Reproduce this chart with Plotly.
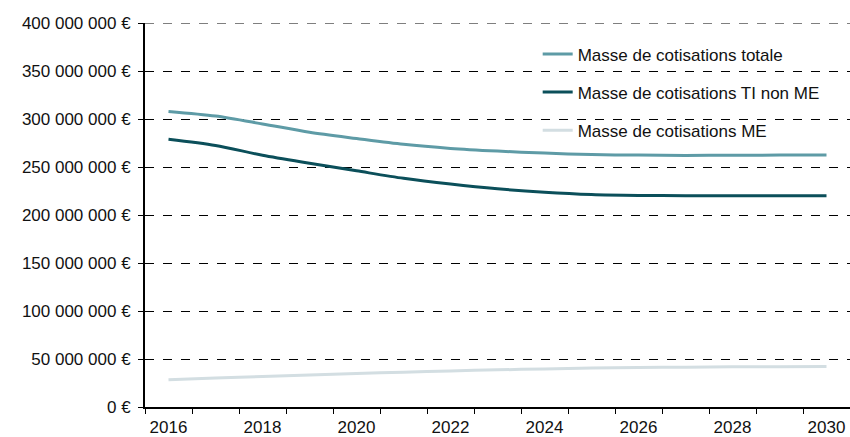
import plotly.graph_objects as go

# Annual contribution totals, 2016-2030 (euros)
years = list(range(2016, 2031))
masse_totale = [307.9e6, 303.1e6, 294.9e6, 286.2e6, 279.7e6, 273.6e6, 269.4e6, 266.6e6,
                264.5e6, 262.9e6, 262.4e6, 262.1e6, 262.2e6, 262.4e6, 262.6e6]
masse_ti_non_me = [279.0e6, 272.5e6, 262.2e6, 253.9e6, 246.0e6, 238.2e6, 232.2e6, 227.3e6,
                   223.8e6, 221.4e6, 220.4e6, 220.1e6, 220.0e6, 220.0e6, 220.1e6]
masse_me = [28.4e6, 30.2e6, 31.8e6, 33.3e6, 34.8e6, 36.3e6, 37.6e6, 38.7e6,
            39.7e6, 40.5e6, 41.1e6, 41.5e6, 41.8e6, 42.0e6, 42.2e6]

series_names = ["Masse de cotisations totale", "Masse de cotisations TI non ME", "Masse de cotisations ME"]
series_colors = ["#5E9BA6", "#0B4F5A", "#D3DEE2"]

y_tickvals = [0, 50e6, 100e6, 150e6, 200e6, 250e6, 300e6, 350e6, 400e6]
y_ticktext = ["{:,} €".format(int(v)).replace(",", " ") for v in y_tickvals]
x_tickvals = [2016, 2018, 2020, 2022, 2024, 2026, 2028, 2030]
x_boundaries = [y + 0.5 for y in range(2015, 2031)]

FONT = "Liberation Sans, Arial, sans-serif"
FS = 17

fig = go.Figure()
for i, (name, vals, col) in enumerate(zip(series_names, [masse_totale, masse_ti_non_me, masse_me], series_colors)):
    fig.add_trace(go.Scatter(
        x=years, y=vals, name=name, mode="lines",
        line=dict(color=col, width=3, shape="spline", smoothing=0.8),
        legendgroup=f"g{i}",
    ))

# dashed gridline at the top of the value axis
fig.add_shape(type="line", xref="paper", yref="y", x0=0, x1=1,
              y0=y_tickvals[-1], y1=y_tickvals[-1],
              line=dict(color="black", width=1, dash="dash"), layer="below")

fig.update_layout(
    width=850, height=437,
    margin=dict(l=145, r=0, t=23, b=27),
    paper_bgcolor="white", plot_bgcolor="white",
    font=dict(family=FONT, size=FS, color="#111111"),
    showlegend=True,
    legend=dict(
        x=0.557, y=0.965, xanchor="left", yanchor="top",
        bgcolor="rgba(0,0,0,0)", font=dict(size=FS, family=FONT),
        traceorder="grouped", tracegroupgap=13,
        itemwidth=30,
    ),
)

fig.update_xaxes(
    range=[2015.5, 2030.5],
    tickmode="array", tickvals=x_tickvals, ticktext=[str(v) for v in x_tickvals],
    ticks="", ticklen=0, ticklabelstandoff=4,
    showline=True, linecolor="black", linewidth=2,
    showgrid=False, zeroline=False,
    minor=dict(tickmode="array", tickvals=x_boundaries, ticks="outside",
               ticklen=5, tickwidth=1, tickcolor="black", showgrid=False),
    tickfont=dict(size=FS, family=FONT),
)
fig.update_yaxes(
    range=[0, 400e6],
    tickmode="array", tickvals=y_tickvals, ticktext=y_ticktext,
    ticks="outside", ticklen=5, tickwidth=1, tickcolor="black",
    showline=True, linecolor="black", linewidth=2,
    showgrid=True, gridcolor="black", gridwidth=1, griddash="dash",
    zeroline=False, ticklabelstandoff=4,
    tickfont=dict(size=FS, family=FONT),
)

fig.write_html("out.html")
